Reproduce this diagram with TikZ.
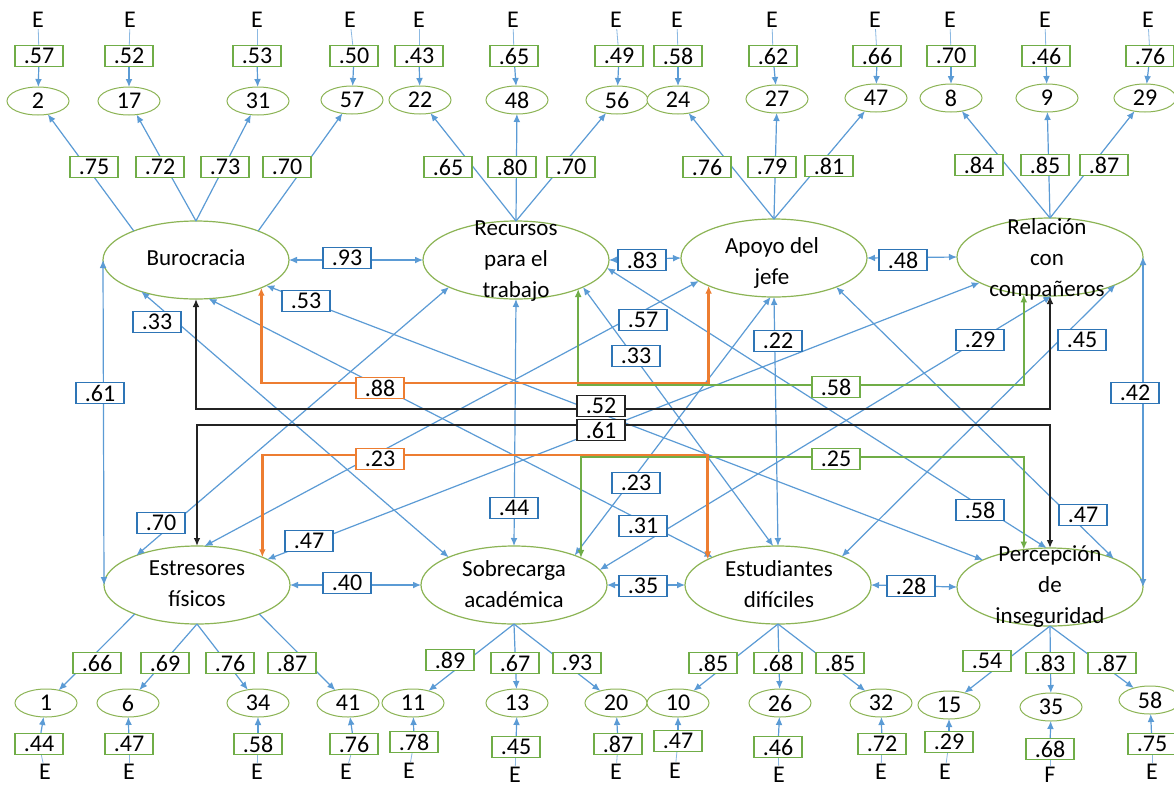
\documentclass[tikz,border=0pt]{standalone}
\usepackage{fontspec}
\setmainfont{Carlito}
\usetikzlibrary{arrows.meta,shapes.geometric}
\definecolor{bl}{RGB}{91,155,213}
\definecolor{bbox}{RGB}{46,117,182}
\definecolor{gr}{RGB}{112,173,71}
\definecolor{ell}{RGB}{140,180,85}
\definecolor{org}{RGB}{237,125,49}
\definecolor{blk}{RGB}{35,35,35}
\newcommand\mynum{\fontsize{12}{14}\selectfont}
\newcommand\mylat{\fontsize{11.5}{15.5}\selectfont}
\begin{document}
\begin{tikzpicture}[x=0.5pt,y=-0.5pt,
  >={Latex[length=4pt,width=3.4pt]},
  lat/.style={ellipse,draw=ell,line width=0.6pt,fill=white,minimum width=93pt,minimum height=39pt,inner sep=0pt,outer sep=0pt},
  ind/.style={ellipse,draw=ell,line width=0.5pt,fill=white,minimum width=31pt,minimum height=14pt,inner sep=0pt,outer sep=0pt,font=\mynum},
  lt/.style={align=center,font=\mylat,inner sep=0pt},
  nb/.style={draw=#1,fill=white,line width=0.7pt,minimum width=24pt,minimum height=10.5pt,inner sep=0pt,font=\mynum},
  lb/.style={nb=gr},
  cb/.style={nb=bbox},
  ob/.style={nb=org},
  kb/.style={nb=blk},
  etx/.style={font=\mynum,inner sep=0.5pt},
  bline/.style={draw=bl,line width=0.6pt},
  eline/.style={draw=bl!70,line width=0.4pt},
  obr/.style={draw=org,line width=1.3pt,<->},
  gbr/.style={draw=gr,line width=1.3pt,<->},
  kbr/.style={draw=blk,line width=0.8pt,<->}]
\useasboundingbox (0,0) rectangle (1174,788);
\fill[white] (0,0) rectangle (1174,788);

% latent factors
\node[lat] (bur) at (196,260) {};
\node[lat] (rec) at (516,260) {};
\node[lat] (apo) at (774,258) {};
\node[lat] (rel) at (1050,257) {};
\node[lat] (estr) at (197,585) {};
\node[lat] (sob) at (514,585) {};
\node[lat] (estu) at (778,585) {};
\node[lat] (per) at (1050,587) {};

% top indicators, error boxes, E
\foreach \n/\x/\y/\bx/\v/\ex in {2/38/101/39/.57/38, 17/129/101/129/.52/130, 31/258/101/257/.53/257, 57/352/100/354/.50/350, 22/420/100/419/.43/419, 48/517/100/514/.65/513, 56/617/100/619/.49/616, 24/678/100/678/.58/677, 27/777/99/773/.62/772, 47/876/98/877/.66/875, 8/951/98/951/.70/950, 9/1047/98/1046/.46/1045, 29/1145/98/1150/.76/1148}{
  \node[ind] (i\n) at (\x,\y) {\n};
  \node[lb] (eb\n) at (\bx,56) {\v};
  \node[etx] (E\n) at (\ex,20) {E};
  \draw[eline] (E\n) -- (eb\n);
  \draw[bline,->] (eb\n) -- (i\n);
}

% bottom indicators, error boxes, E
\foreach \n/\x/\y/\bx/\by/\v/\ex/\ey/\L in {1/46/703/39/744/.44/45/772/E, 6/128/703/129/744/.47/129/772/E, 34/258/703/258/744/.58/257/772/E, 41/348/703/354/744/.76/346/772/E, 11/413/703/414/742/.78/409/771/E, 13/517/703/516/747/.45/515/775/E, 20/616/703/618/744/.87/616/772/E, 10/678/703/678/741/.47/675/771/E, 26/780/703/778/747/.46/779/775/E, 32/881/703/882/744/.72/881/772/E, 15/949/705/949/742/.29/945/772/E, 35/1051/707/1050/749/.68/1050/775/F, 58/1150/700/1152/744/.75/1152/772/E}{
  \node[ind] (i\n) at (\x,\y) {\n};
  \node[lb] (eb\n) at (\bx,\by) {\v};
  \node[etx] (E\n) at (\ex,\ey) {\L};
  \draw[eline] (E\n) -- (eb\n);
  \draw[bline,->] (eb\n) -- (i\n);
}

% loadings (lines)
\draw[bline,->] (bur.155) -- (i2);
\draw[bline,->] (bur.north) -- (i17);
\draw[bline,->] (bur.north) -- (i31);
\draw[bline,->] (bur.25) -- (i57);
\draw[bline,->] (rec.north) -- (i22);
\draw[bline,->] (rec.north) -- (i48);
\draw[bline,->] (rec.north) -- (i56);
\draw[bline,->] (apo.north) -- (i24);
\draw[bline,->] (apo.north) -- (i27);
\draw[bline,->] (apo.north) -- (i47);
\draw[bline,->] (rel.north) -- (i8);
\draw[bline,->] (rel.north) -- (i9);
\draw[bline,->] (rel.north) -- (i29);
\draw[bline,->] (estr.205) -- (i1);
\draw[bline,->] (estr.south) -- (i6);
\draw[bline,->] (estr.south) -- (i34);
\draw[bline,->] (estr.335) -- (i41);
\draw[bline,->] (sob.south) -- (i11);
\draw[bline,->] (sob.south) -- (i13);
\draw[bline,->] (sob.south) -- (i20);
\draw[bline,->] (estu.south) -- (i10);
\draw[bline,->] (estu.south) -- (i26);
\draw[bline,->] (estu.south) -- (i32);
\draw[bline,->] (per.south) -- (i15);
\draw[bline,->] (per.south) -- (i35);
\draw[bline,->] (per.south) -- (i58);

% correlations: straight
\draw[bline,<->] (bur.east) -- (rec.west);
\draw[bline,<->] (rec.east) -- (apo.west);
\draw[bline,<->] (apo.east) -- (rel.west);
\draw[bline,<->] (estr.east) -- (sob.west);
\draw[bline,<->] (sob.east) -- (estu.west);
\draw[bline,<->] (estu.east) -- (per.west);
\draw[bline,<->] (bur.west) -- (estr.west);
\draw[bline,<->] (rel.east) -- (per.east);
\draw[bline,<->] (rec.south) -- (sob.north);
\draw[bline,<->] (apo.south) -- (estu.north);
% diagonals
\draw[bline,<->] (bur.-150) -- (sob.157);
\draw[bline,<->] (bur.-20) -- (per.158);
\draw[bline,<->] (bur.-72) -- (estu.157);
\draw[bline,<->] (rec.-158) -- (estr.154);
\draw[bline,<->] (apo.-163) -- (estr.79);
\draw[bline,<->] (rel.-160) -- (estr.20);
\draw[bline,<->] (apo.-95) -- (sob.26);
\draw[bline,<->] (rec.-22) -- (estu.97);
\draw[bline,<->] (rec.-5) -- (per.95);
\draw[bline,<->] (apo.-25) -- (per.24);
\draw[bline,<->] (rel.-88) -- (sob.10);
\draw[bline,<->] (rel.-23) -- (estu.24);

% bracket correlations
\coordinate (hO1) at (0,383);
\coordinate (hG1) at (0,385);
\coordinate (hK1) at (0,409);
\coordinate (hK2) at (0,425);
\coordinate (hO2) at (0,455);
\coordinate (hG2) at (0,457);
\draw[kbr] (bur.south) -- (bur.south |- hK1) -| (rel.south);
\draw[kbr] (estr.north) -- (estr.north |- hK2) -| (per.north);
\draw[gbr] (rec.-25) -- (rec.-25 |- hG1) -| (rel.-125);
\draw[gbr] (sob.22) -- (sob.22 |- hG2) -| (per.125);
\draw[obr] (bur.-23) -- (bur.-23 |- hO1) -| (apo.-157);
\draw[obr] (estr.23) -- (estr.23 |- hO2) -| (estu.160);

% latent texts
\node[lt] (tbur) at (196,258) {Burocracia};
\node[lt] (trec) at (516,261) {Recursos\\para el\\trabajo};
\node[lt] (tapo) at (772,263) {Apoyo del\\jefe};
\node[lt] (trel) at (1047,259) {Relación\\con\\compañeros};
\node[lt] (testr) at (197,584) {Estresores\\físicos};
\node[lt] (tsob) at (514,584) {Sobrecarga\\académica};
\node[lt] (testu) at (779,584) {Estudiantes\\difíciles};
\node[lt] (tper) at (1050,587) {Percepción\\de\\inseguridad};

% loading boxes
\foreach \x/\y/\v [count=\k] in {94/167/.75, 160/167/.72, 225/167/.73, 287/167/.70, 448/167/.65, 512/167/.80, 571/167/.70, 707/167/.76, 772/167/.79, 829/166/.81, 979/165/.84, 1045/165/.85, 1104/165/.87, 97/663/.66, 165/663/.69, 230/663/.76, 292/663/.87, 450/660/.89, 515/663/.67, 577/663/.93, 713/663/.85, 778/663/.68, 840/663/.85, 987/661/.54, 1050/663/.83, 1112/663/.87}{
  \node[lb] (ld\k) at (\x,\y) {\v};
}

% correlation boxes
\foreach \x/\y/\v [count=\k] in {347/258/.93, 642/260/.83, 903/260/.48, 347/583/.40, 643/586/.35, 911/586/.28, 100/393/.61, 1135/393/.42, 514/508/.44, 778/341/.22, 157/322/.33, 306/301/.53, 643/320/.57, 636/356/.33, 980/340/.29, 1082/340/.45, 161/523/.70, 309/541/.47, 636/483/.23, 643/526/.31, 980/510/.58, 1083/515/.47}{
  \node[cb] (cr\k) at (\x,\y) {\v};
}
\node[ob] (c88) at (380,388) {.88};
\node[ob] (c23) at (380,459) {.23};
\node[lb] (c58) at (836,387) {.58};
\node[lb] (c25) at (836,459) {.25};
\node[kb] (c52) at (601,406) {.52};
\node[kb] (c61) at (601,430) {.61};
\end{tikzpicture}
\end{document}
